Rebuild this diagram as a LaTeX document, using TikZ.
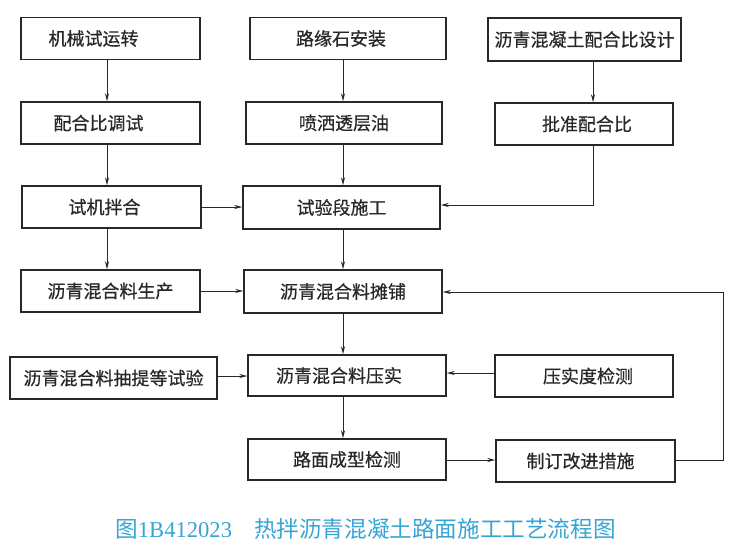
\documentclass[tikz,border=0pt]{standalone}
\usepackage{fontspec}
\newfontfamily\cjk{Noto Sans CJK SC}
\newfontfamily\cjkbox[FakeBold=0.6]{Noto Sans CJK SC}
\newfontfamily\latinserif{Liberation Serif}
\usetikzlibrary{arrows.meta}
\definecolor{capblue}{RGB}{55,165,212}
\definecolor{ink}{RGB}{40,40,40}
\tikzset{
  box/.style={draw=ink, line width=1.5pt, minimum height=42pt, inner sep=1pt,
    font=\cjkbox\fontsize{18}{20}\selectfont, text=ink},
  flow/.style={draw=ink, line width=0.9pt, -{Stealth[length=8pt,width=4pt]}},
}
\begin{document}
\begin{tikzpicture}[x=1pt,y=-1pt]
\useasboundingbox (0,0) rectangle (733,554);
% row 1
\node[box, minimum width=179pt] (A) at (110.5,38.5) {机械试运转\hspace*{34pt}};
\node[box, minimum width=196pt] (B) at (348,38.5) {路缘石安装\hspace*{14pt}};
\node[box, minimum width=193pt, minimum height=43pt] (C) at (584.5,39.5) {沥青混凝土配合比设计};
% row 2
\node[box, minimum width=179pt] (D) at (110.5,123) {配合比调试\hspace*{24pt}};
\node[box, minimum width=196pt] (E) at (344,123) {喷洒透层油};
\node[box, minimum width=178pt] (F) at (584,124) {\hspace*{6pt}批准配合比};
% row 3
\node[box, minimum width=179pt] (G) at (111.5,207) {试机拌合\hspace*{14pt}};
\node[box, minimum width=197pt, minimum height=43pt] (H) at (341.5,207.5) {试验段施工};
% row 4
\node[box, minimum width=179pt] (I) at (110.5,291) {沥青混合料生产};
\node[box, minimum width=198pt, minimum height=43pt] (J) at (343,291.5) {沥青混合料摊铺};
% row 5
\node[box, minimum width=207pt] (K) at (113.5,378) {沥青混合料抽提等试验};
\node[box, minimum width=198pt, minimum height=41pt] (L) at (347,375.5) {沥青混合料压实\hspace*{16pt}};
\node[box, minimum width=178pt] (M) at (584,376) {\hspace*{8pt}压实度检测};
% row 6
\node[box, minimum width=198pt, minimum height=41pt] (N) at (347,459.5) {路面成型检测};
\node[box, minimum width=179pt] (O) at (585.5,461) {制订改进措施\hspace*{10pt}};
% coordinates
\coordinate (fb1) at (723,460);
\coordinate (fb2) at (723,292);
\coordinate (fturn) at (593,205);
% vertical arrows
\draw[flow] (A.south -| 107,0) -- (D.north -| 107,0);
\draw[flow] (D.south -| 107,0) -- (G.north -| 107,0);
\draw[flow] (G.south -| 107,0) -- (I.north -| 107,0);
\draw[flow] (B.south -| 343,0) -- (E.north -| 343,0);
\draw[flow] (E.south -| 343,0) -- (H.north -| 343,0);
\draw[flow] (H.south -| 343,0) -- (J.north -| 343,0);
\draw[flow] (J.south -| 343,0) -- (L.north -| 343,0);
\draw[flow] (L.south -| 343,0) -- (N.north -| 343,0);
\draw[flow] (C.south -| 593,0) -- (F.north -| 593,0);
% horizontal arrows
\draw[flow] (F.south -| fturn) -- (fturn) -- (fturn -| H.east);
\draw[flow] (G.east |- 0,207) -- (H.west |- 0,207);
\draw[flow] (I.east |- 0,291) -- (J.west |- 0,291);
\draw[flow] (K.east |- 0,376) -- (L.west |- 0,376);
\draw[flow] (M.west |- 0,373) -- (L.east |- 0,373);
\draw[flow] (N.east |- 0,460) -- (O.west |- 0,460);
\draw[flow] (O.east |- fb1) -- (fb1) -- (fb2) -- (fb2 -| J.east);
% caption
\node[text=capblue, font=\cjk\fontsize{22.6}{24}\selectfont, anchor=center] (cap) at (365.5,529)
  {图{\latinserif 1B412023}\hspace{22pt}热拌沥青混凝土路面施工工艺流程图};
\end{tikzpicture}
\end{document}
